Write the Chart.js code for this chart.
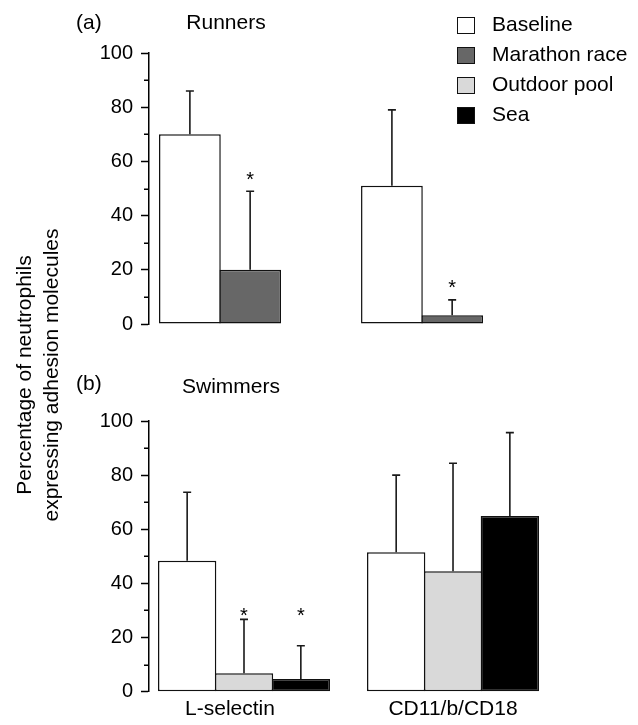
<!DOCTYPE html>
<html>
<head>
<meta charset="utf-8">
<script src="https://cdn.jsdelivr.net/npm/chart.js@4.4.1/dist/chart.umd.min.js"></script>
<style>
  body { margin: 0; background: #fff; }
  #fig { position: relative; width: 638px; height: 725px; overflow: hidden;
         font-family: "Liberation Sans", Arial, sans-serif; color: #000; }
  #fig canvas { position: absolute; left: 0; }
  .txt { position: absolute; font-size: 21px; line-height: 21px; white-space: nowrap; }
  .centered { width: 200px; text-align: center; }
  #ytitle { position: absolute; left: -163px; top: 348px; width: 400px; height: 54px;
            font-size: 21px; line-height: 27px; text-align: center; transform: rotate(-90deg); }
  .lg-box { position: absolute; left: 457px; width: 16px; height: 15px; border: 1.5px solid #111; }
  .lg-text { position: absolute; left: 492px; font-size: 21px; line-height: 21px; white-space: nowrap; }
</style>
</head>
<body>
<div id="fig">
  <canvas id="plot_runners" width="638" height="350" style="top:0"></canvas>
  <canvas id="plot_swimmers" width="638" height="385" style="top:340px"></canvas>
  <div class="txt" style="left:76px;top:11px">(a)</div>
  <div class="txt centered" style="left:126px;top:11px">Runners</div>
  <div class="txt" style="left:76px;top:372px">(b)</div>
  <div class="txt centered" style="left:131px;top:375px">Swimmers</div>
  <div id="ytitle">Percentage of neutrophils<br>expressing adhesion molecules</div>
  <div id="legend"></div>
</div>
<script>
// categories (x labels only shown on the swimmers panel)
var categories = ["L-selectin", "CD11/b/CD18"];

// legend entries
var seriesNames = ["Baseline", "Marathon race", "Outdoor pool", "Sea"];
var seriesColors = ["#ffffff", "#676767", "#d9d9d9", "#000000"];

// (a) runners: means, SD (upper bar), asterisk heights
var runnersBaseline = [70, 51];
var runnersBaselineSd = [16, 28];
var runnersMarathon = [20, 3.2];
var runnersMarathonSd = [29, 5.7];
var runnersMarathonStar = [55.5, 15.5];

// (b) swimmers
var swimBaseline = [48.4, 51.5];
var swimBaselineSd = [25.3, 28.5];
var swimPool = [6.8, 44.5];
var swimPoolSd = [19.9, 39.9];
var swimPoolStar = [30, null];
var swimSea = [4.7, 64.9];
var swimSeaSd = [12.3, 30.8];
var swimSeaStar = [30, null];

var yTicks = [0, 20, 40, 60, 80, 100];
var yMinorTicks = [10, 30, 50, 70, 90];
var swimLabelAt = [-0.067, 1];

var FONT = '"Liberation Sans", Arial, sans-serif';
Chart.defaults.font.family = FONT;
Chart.defaults.color = "#000";

// legend
(function () {
  var lg = document.getElementById("legend");
  seriesNames.forEach(function (name, i) {
    var top = 16.7 + i * 30;
    var box = document.createElement("div");
    box.className = "lg-box";
    box.style.top = top + "px";
    box.style.background = seriesColors[i];
    lg.appendChild(box);
    var t = document.createElement("div");
    t.className = "lg-text";
    t.style.top = (top - 4) + "px";
    t.textContent = name;
    lg.appendChild(t);
  });
})();

function points(values) {
  return values.map(function (v, i) { return { x: i, y: v }; });
}

// bars slightly wider than their slot so neighbouring outlines coincide
function dataset(label, values, sd, star, color, catPct, barPct) {
  return {
    label: label,
    data: points(values),
    sd: sd,
    star: star,
    backgroundColor: color,
    borderColor: "#111",
    borderWidth: 1.5,
    borderSkipped: false,
    categoryPercentage: catPct,
    barPercentage: barPct,
  };
}

var errorBars = {
  id: "errorBars",
  afterDatasetsDraw: function (chart) {
    var ctx = chart.ctx;
    var y = chart.scales.y;
    ctx.save();
    chart.data.datasets.forEach(function (ds, di) {
      var meta = chart.getDatasetMeta(di);
      meta.data.forEach(function (bar, i) {
        var top = y.getPixelForValue(ds.data[i].y + ds.sd[i]);
        ctx.strokeStyle = "#1a1a1a";
        ctx.lineWidth = 1.6;
        ctx.beginPath();
        ctx.moveTo(bar.x, bar.y);
        ctx.lineTo(bar.x, top);
        ctx.moveTo(bar.x - 4, top);
        ctx.lineTo(bar.x + 4, top);
        ctx.stroke();
        if (ds.star && ds.star[i] != null) {
          ctx.fillStyle = "#000";
          ctx.font = "20px " + FONT;
          ctx.textAlign = "center";
          ctx.textBaseline = "alphabetic";
          ctx.fillText("*", bar.x, y.getPixelForValue(ds.star[i]) + 12);
        }
      });
    });
    // minor ticks on the y axis
    ctx.strokeStyle = "#000";
    ctx.lineWidth = 1.5;
    ctx.beginPath();
    yMinorTicks.forEach(function (v) {
      var py = Math.round(y.getPixelForValue(v)) + 0.25;
      ctx.moveTo(y.right - 5, py);
      ctx.lineTo(y.right, py);
    });
    ctx.stroke();
    ctx.restore();
  },
};

function yScale() {
  return {
    min: 0,
    max: 100,
    afterFit: function (scale) { scale.width = 149; },
    afterBuildTicks: function (scale) {
      scale.ticks = yTicks.map(function (v) { return { value: v }; });
    },
    ticks: { font: { size: 20 }, padding: 8, color: "#000" },
    grid: { drawOnChartArea: false, tickLength: 8, tickWidth: 1.5, tickColor: "#000" },
    border: { display: true, color: "#000", width: 1.5 },
  };
}

new Chart(document.getElementById("plot_runners"), {
  type: "bar",
  data: {
    datasets: [
      dataset(seriesNames[0], runnersBaseline, runnersBaselineSd, null, seriesColors[0], 0.5965, 1.0249),
      dataset(seriesNames[1], runnersMarathon, runnersMarathonSd, runnersMarathonStar, seriesColors[1], 0.5965, 1.0249),
    ],
  },
  options: {
    responsive: false,
    animation: false,
    devicePixelRatio: 1,
    layout: { padding: { top: 53, bottom: 26, left: 0, right: 0 } },
    plugins: { legend: { display: false }, tooltip: { enabled: false } },
    scales: {
      x: {
        type: "linear",
        display: false,
        offset: false,
        min: -0.3515,
        max: 2.069,
        afterBuildTicks: function (scale) {
          scale.ticks = categories.map(function (c, i) { return { value: i }; });
        },
      },
      y: yScale(),
    },
  },
  plugins: [errorBars],
});

new Chart(document.getElementById("plot_swimmers"), {
  type: "bar",
  data: {
    datasets: [
      dataset(seriesNames[0], swimBaseline, swimBaselineSd, null, seriesColors[0], 0.8158, 1.0264),
      dataset(seriesNames[2], swimPool, swimPoolSd, swimPoolStar, seriesColors[2], 0.8158, 1.0264),
      dataset(seriesNames[3], swimSea, swimSeaSd, swimSeaStar, seriesColors[3], 0.8158, 1.0264),
    ],
  },
  options: {
    responsive: false,
    animation: false,
    devicePixelRatio: 1,
    layout: { padding: { top: 81, bottom: 0, left: 0, right: 0 } },
    plugins: { legend: { display: false }, tooltip: { enabled: false } },
    scales: {
      x: {
        type: "linear",
        offset: false,
        min: -0.4545,
        max: 1.885,
        afterFit: function (scale) { scale.height = 33.3; },
        afterBuildTicks: function (scale) {
          scale.ticks = swimLabelAt.map(function (v) { return { value: v }; });
        },
        ticks: {
          font: { size: 21 },
          padding: -3,
          autoSkip: false,
          maxRotation: 0,
          callback: function (value, index) { return categories[index]; },
        },
        grid: { display: false },
        border: { display: false },
      },
      y: yScale(),
    },
  },
  plugins: [errorBars],
});
</script>
</body>
</html>
